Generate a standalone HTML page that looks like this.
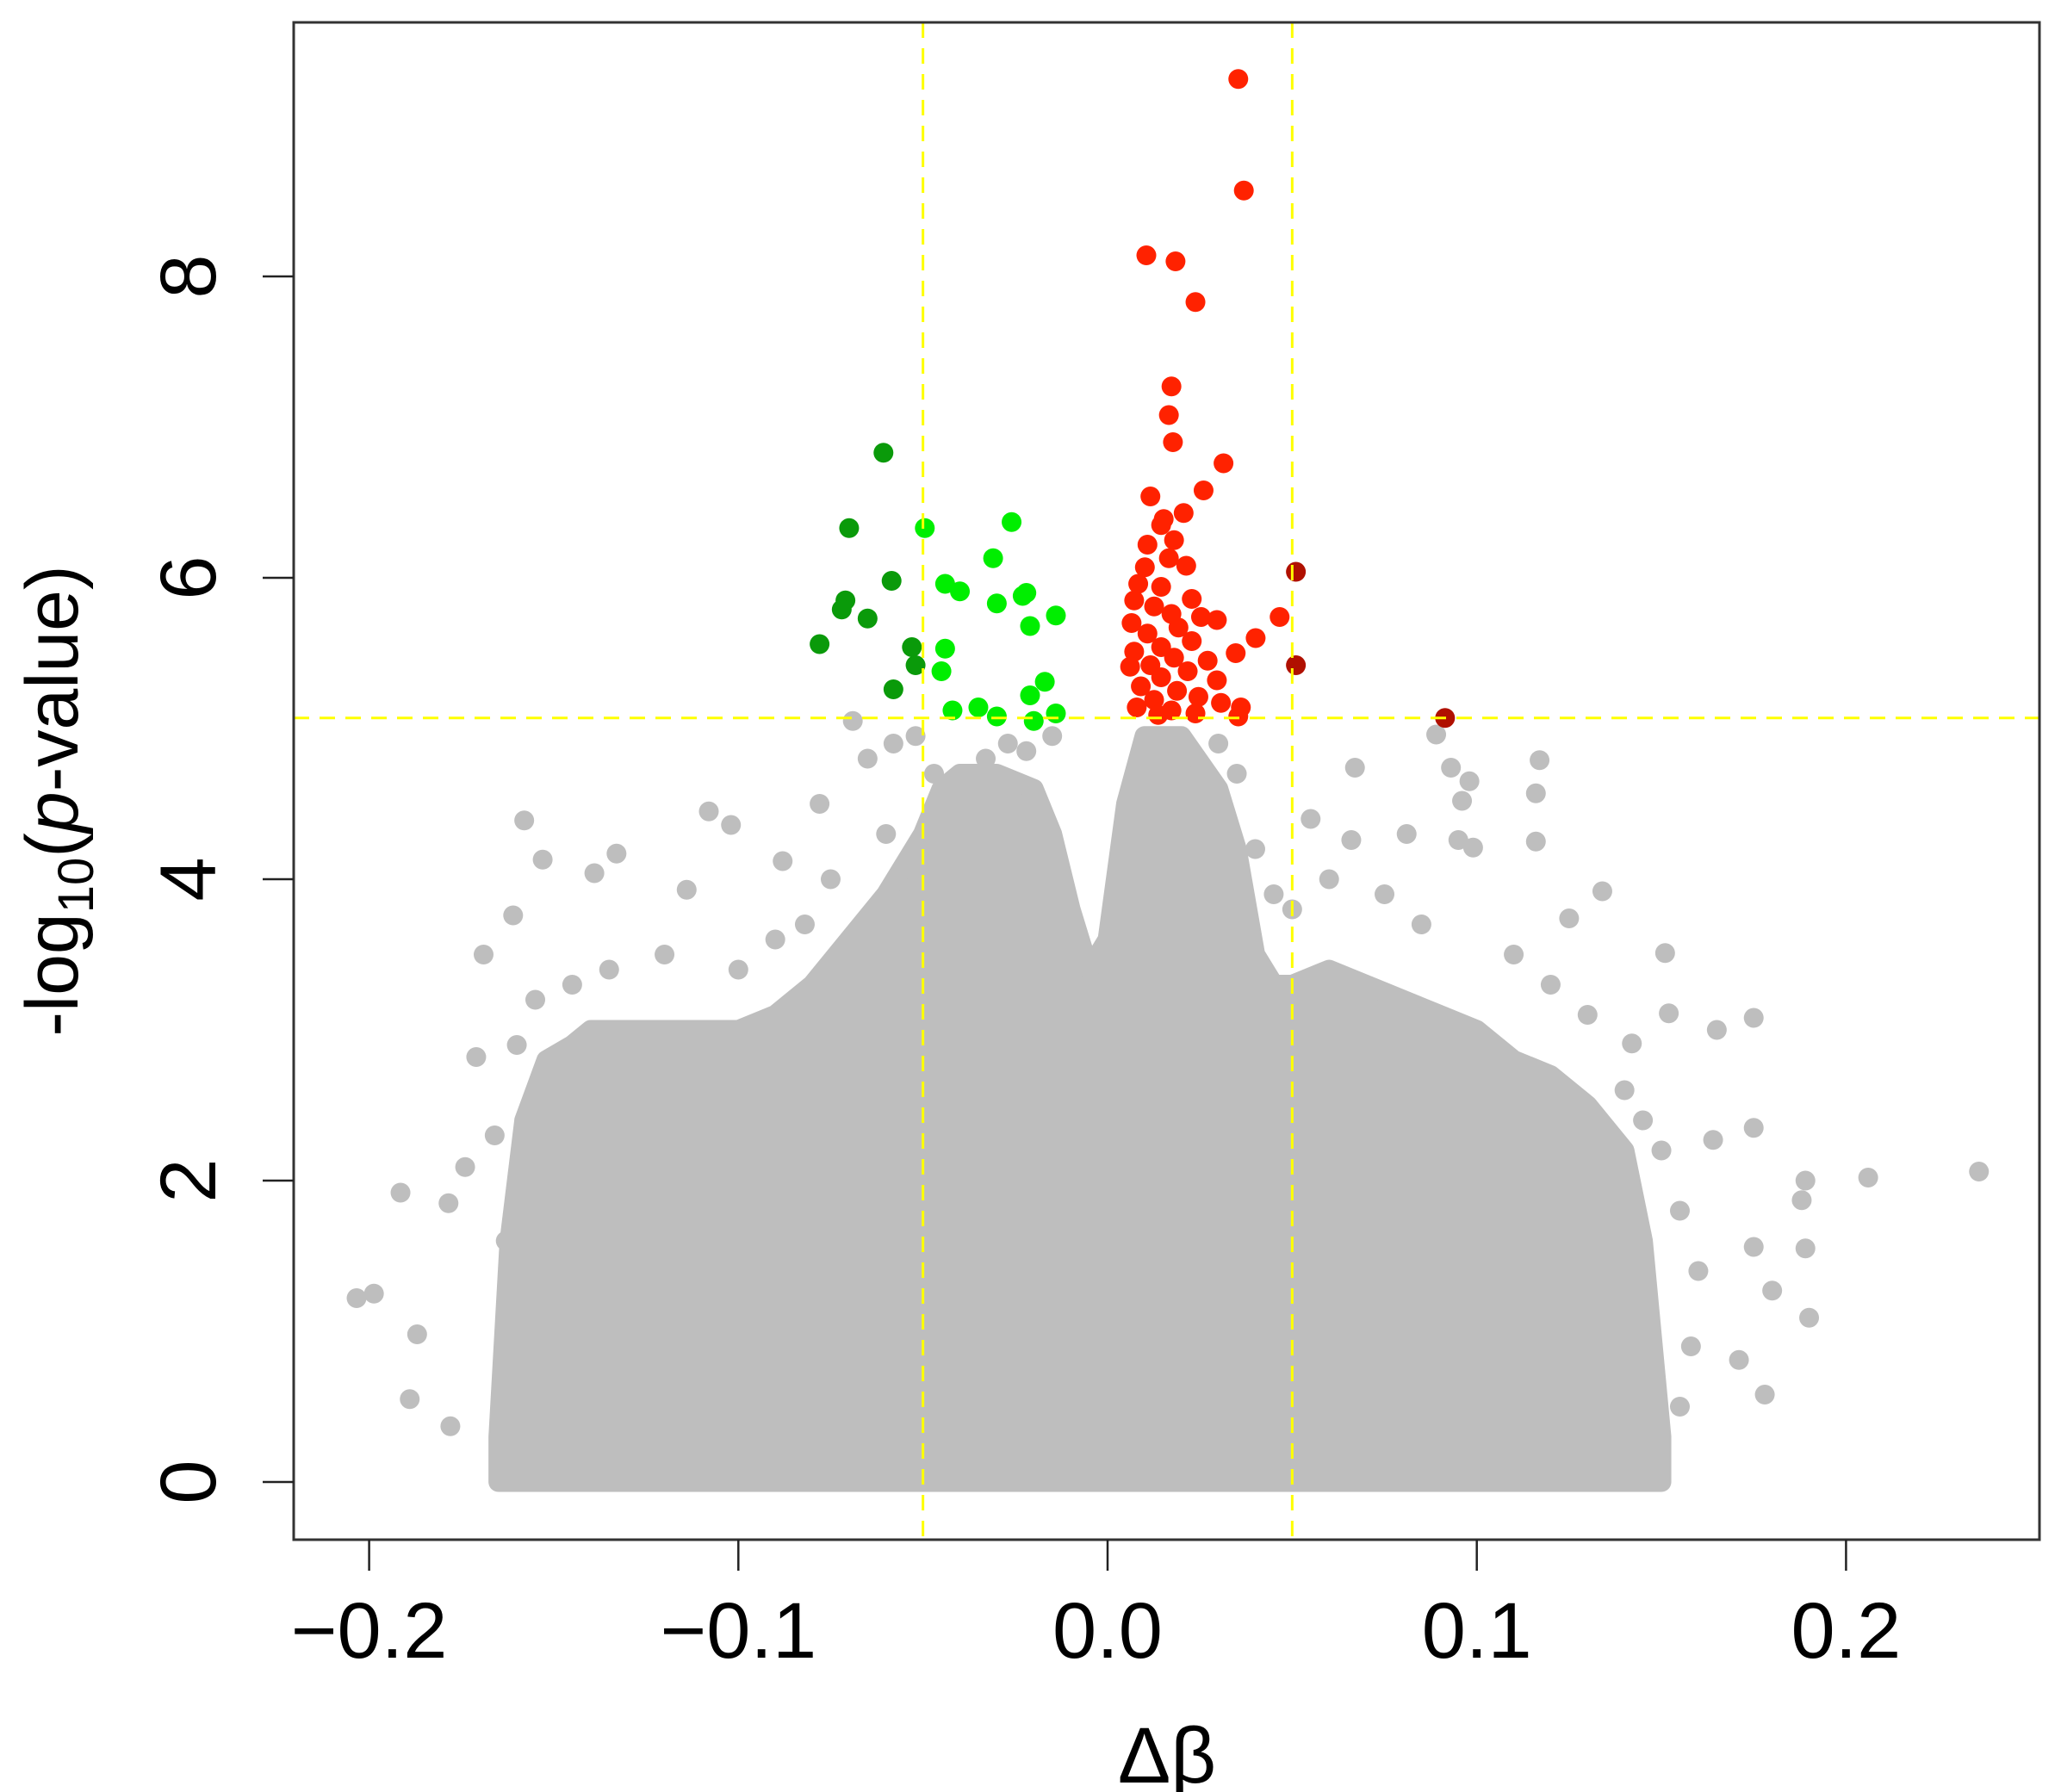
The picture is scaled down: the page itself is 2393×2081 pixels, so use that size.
<!DOCTYPE html>
<html><head><meta charset="utf-8"><style>
html,body{margin:0;padding:0;background:#fff;}
svg{display:block;font-family:"Liberation Sans",Arial,sans-serif;}
</style></head><body>
<svg id="chart" width="2393" height="2081" viewBox="0 0 2393 2081" xmlns="http://www.w3.org/2000/svg">
<rect x="0" y="0" width="2393" height="2081" fill="#fff"/>
<g id="cloud"></g>
<g id="pts"></g>
<g id="thr"></g>
<g id="axes"></g>
</svg>
<script>
const xTicks=[-0.2,-0.1,0.0,0.1,0.2];
const xTickLabels=["\u22120.2","\u22120.1","0.0","0.1","0.2"];
const yTicks=[0,2,4,6,8];
const yTickLabels=["0","2","4","6","8"];
const thrX=[-0.05,0.05];
const thrY=5.07;
const envX=[-0.165,-0.162,-0.158,-0.152,-0.145,-0.14,-0.13,-0.12,-0.11,-0.10,-0.09,-0.08,-0.07,-0.06,-0.05,-0.045,-0.04,-0.03,-0.02,-0.015,-0.01,-0.005,0.0,0.005,0.01,0.02,0.03,0.035,0.04,0.045,0.05,0.06,0.07,0.08,0.09,0.10,0.11,0.12,0.13,0.14,0.145,0.15];
const envY=[0.3,1.6,2.4,2.8,2.9,3.0,3.0,3.0,3.0,3.0,3.1,3.3,3.6,3.9,4.3,4.6,4.7,4.7,4.6,4.3,3.8,3.4,3.6,4.5,4.95,4.95,4.6,4.2,3.5,3.3,3.3,3.4,3.3,3.2,3.1,3.0,2.8,2.7,2.5,2.2,1.6,0.3];
const greyX=[-0.2034,-0.1987,-0.1915,-0.187,-0.189,-0.1785,-0.178,-0.171,-0.174,-0.169,-0.161,-0.158,-0.153,-0.139,-0.133,-0.108,-0.102,-0.114,-0.088,-0.078,-0.069,0.236,0.206,0.189,0.188,0.189,0.190,0.180,0.175,0.178,0.171,0.164,0.175,0.175,0.165,0.151,0.152,0.142,0.117,0.116,0.134,0.116,0.098,0.093,0.089,0.095,0.099,0.067,0.066,0.081,0.125,0.096,
-0.065,-0.058,-0.052,-0.047,-0.04,-0.033,-0.027,-0.022,-0.015,-0.03,-0.045,-0.06,-0.075,-0.082,0.03,0.035,0.04,0.045,0.05,0.055,0.06,0.075,0.085,0.11,0.12,0.13,0.14,0.145,0.15,0.155,0.16,0.158,0.155,-0.162,-0.163,-0.166,-0.16,-0.155,-0.145,-0.135,-0.12,-0.1,-0.09];
const greyY=[1.22,1.25,1.92,0.98,0.55,1.85,0.37,2.82,2.09,3.5,3.76,4.39,4.13,4.04,4.17,4.45,4.36,3.93,4.12,4.5,5.05,2.06,2.02,2.0,1.87,1.55,1.09,1.27,1.56,0.58,0.81,2.27,2.35,3.08,3.0,3.51,3.11,2.91,4.79,4.57,3.92,4.25,4.65,4.74,4.96,4.26,4.21,4.74,4.26,4.3,3.74,4.52,
4.8,4.9,4.95,4.7,4.6,4.8,4.9,4.85,4.95,4.5,4.4,4.3,4.0,3.7,4.9,4.7,4.2,3.9,3.8,4.4,4.0,3.9,3.7,3.5,3.3,3.1,2.6,2.4,2.2,1.8,1.4,0.9,0.5,1.0,1.6,2.3,2.9,3.2,3.3,3.4,3.5,3.4,3.6];
const dkGreenX=[-0.0607,-0.070,-0.0585,-0.071,-0.072,-0.065,-0.078,-0.053,-0.052,-0.058];
const dkGreenY=[6.83,6.33,5.98,5.85,5.79,5.73,5.56,5.54,5.42,5.26];
const ltGreenX=[-0.0495,-0.026,-0.031,-0.044,-0.040,-0.022,-0.023,-0.030,-0.014,-0.021,-0.044,-0.045,-0.017,-0.021,-0.042,-0.035,-0.030,-0.014,-0.020];
const ltGreenY=[6.33,6.37,6.13,5.96,5.91,5.90,5.88,5.83,5.75,5.68,5.53,5.38,5.31,5.22,5.12,5.14,5.08,5.10,5.05];
const redX=[0.0354,0.0369,0.0105,0.0184,0.0238,0.0173,0.0166,0.0177,0.0314,0.026,0.0116,0.0206,0.0152,0.0145,0.018,0.0108,0.0166,0.0213,0.0101,0.0083,0.0145,0.0228,0.0072,0.0126,0.0173,0.0253,0.0466,0.0296,0.0065,0.0192,0.0108,0.0401,0.0228,0.0145,0.0072,0.0347,0.018,0.0271,0.0116,0.0061,0.0217,0.0145,0.0296,0.0090,0.0188,0.0246,0.0126,0.0307,0.0361,0.0173,0.0079,0.0238,0.0354,0.0137];
const redY=[9.31,8.57,8.14,8.10,7.83,7.27,7.08,6.90,6.76,6.58,6.54,6.43,6.39,6.35,6.25,6.22,6.13,6.08,6.07,5.96,5.94,5.86,5.85,5.81,5.76,5.74,5.74,5.72,5.70,5.67,5.63,5.60,5.58,5.54,5.51,5.50,5.47,5.45,5.42,5.41,5.38,5.34,5.32,5.28,5.25,5.21,5.19,5.17,5.14,5.12,5.14,5.10,5.08,5.09];
const dkRedX=[0.051,0.051,0.0914];
const dkRedY=[6.04,5.42,5.07];

const NS="http://www.w3.org/2000/svg";
const L=341,R=2368,T=26,B=1788;
function sx(v){return 1286+v*4287;}
function sy(v){return 1721-v*175;}
const R0=11.5;
function mk(tag,attrs,parent){const e=document.createElementNS(NS,tag);for(const k in attrs)e.setAttribute(k,attrs[k]);parent.appendChild(e);return e;}

const cloud=document.getElementById('cloud');
let d="M"+sx(envX[0])+","+sy(0);
for(let i=0;i<envX.length;i++)d+=" L"+sx(envX[i])+","+sy(envY[i]);
d+=" L"+sx(envX[envX.length-1])+","+sy(0)+" Z";
const env=mk('path',{d:d,fill:'#bebebe',stroke:'#bebebe','stroke-width':23,'stroke-linejoin':'round'},cloud);



const pts=document.getElementById('pts');
function series(xs,ys,col,name){
  for(let i=0;i<xs.length;i++){
    const c=mk('circle',{cx:sx(xs[i]),cy:sy(ys[i]),r:R0,fill:col},pts);
    
    
  }
}
series(greyX,greyY,'#bebebe','grey-point');
series(dkGreenX,dkGreenY,'#0a9a0a','dark-green-point');
series(ltGreenX,ltGreenY,'#00ee00','light-green-point');
series(redX,redY,'#ff2200','red-point');
series(dkRedX,dkRedY,'#b01000','dark-red-point');

const thr=document.getElementById('thr');
thrX.forEach(v=>{const l=mk('line',{x1:sx(v),x2:sx(v),y1:T,y2:B,stroke:'#ffff00','stroke-width':3,'stroke-dasharray':'18,12'},thr);

});
const hl=mk('line',{x1:L,x2:R,y1:sy(thrY),y2:sy(thrY),stroke:'#ffff00','stroke-width':3,'stroke-dasharray':'18,12'},thr);



const ax=document.getElementById('axes');
const fr=mk('rect',{x:L,y:T,width:R-L,height:B-T,fill:'none',stroke:'#333','stroke-width':3},ax);


xTicks.forEach((v,i)=>{
  const t=mk('line',{x1:sx(v),x2:sx(v),y1:B,y2:B+36,stroke:'#222','stroke-width':2.5},ax);
  
  
  const tx=mk('text',{x:sx(v),y:1925,'text-anchor':'middle','font-size':92,fill:'#000'},ax);
  tx.textContent=xTickLabels[i];
  
  
});
yTicks.forEach((v,i)=>{
  const t=mk('line',{x1:L-36,x2:L,y1:sy(v),y2:sy(v),stroke:'#222','stroke-width':2.5},ax);
  
  
  const tx=mk('text',{x:0,y:0,'text-anchor':'middle','font-size':92,fill:'#000',transform:'translate(250,'+sy(v)+') rotate(-90)'},ax);
  tx.textContent=yTickLabels[i];
  
  
});
</script>
<svg style="position:absolute;left:0;top:0" width="2393" height="2081">
<text x="1355" y="2070" text-anchor="middle" font-size="92" font-family="Liberation Sans, sans-serif">Δβ</text>
<text transform="translate(90,930) rotate(-90)" text-anchor="middle" font-size="86" font-family="Liberation Sans, sans-serif">-log<tspan font-size="58" dy="18">10</tspan><tspan dy="-18">(</tspan><tspan font-style="italic">p</tspan>-value)</text>
</svg>
</body></html>
